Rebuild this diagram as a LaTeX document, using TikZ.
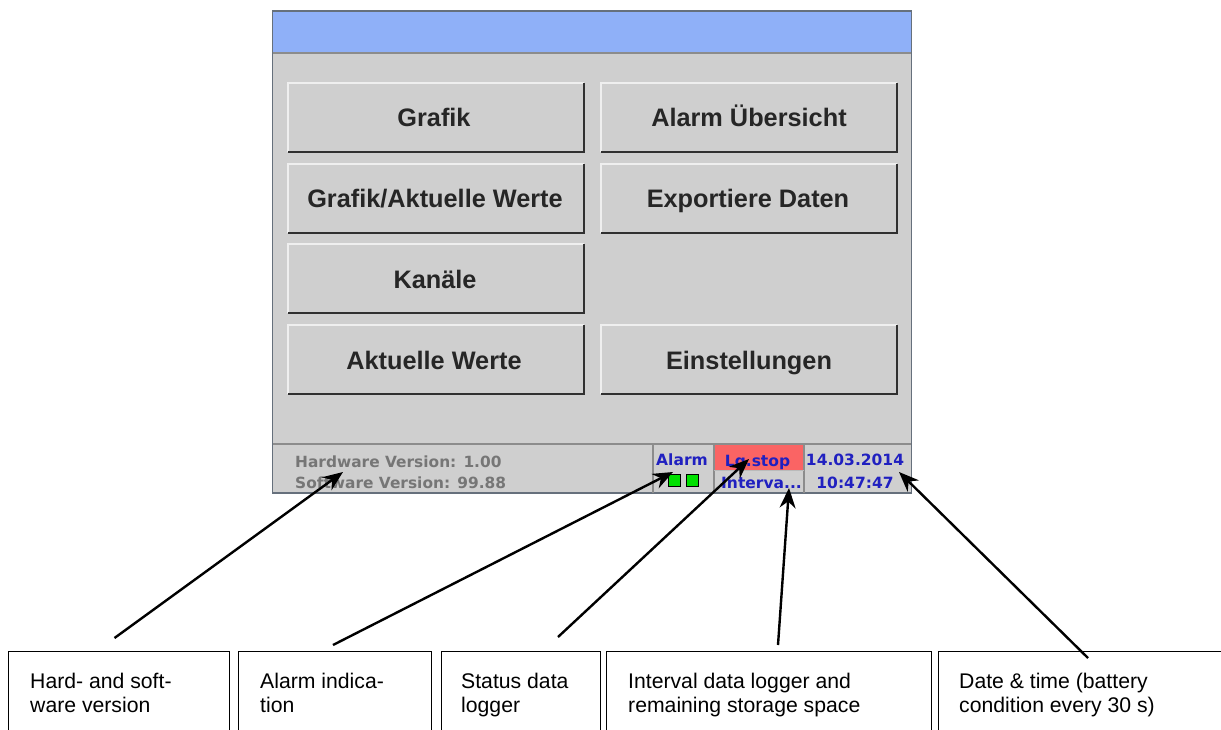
\documentclass[tikz,border=0pt]{standalone}
\usepackage{fontspec}
\setmainfont{Liberation Sans}
\newfontfamily\statusfont{DejaVu Sans}
\usetikzlibrary{arrows.meta}
\definecolor{panel}{HTML}{CFCFCF}
\definecolor{titleblue}{HTML}{8FB0F8}
\definecolor{frame}{HTML}{66707C}
\definecolor{sep}{HTML}{8C8C8C}
\definecolor{btndark}{HTML}{303030}
\definecolor{btnlight}{HTML}{EFEFEF}
\definecolor{statblue}{HTML}{2020C0}
\definecolor{statgrey}{HTML}{767676}
\definecolor{stopred}{HTML}{FA6464}
\definecolor{ledgreen}{HTML}{00E000}
\tikzset{
  x=1pt,y=-1pt,
  btnlabel/.style={font=\fontsize{25.3}{28}\selectfont\bfseries,text=black!85,inner sep=0pt,anchor=base},
  statlabel/.style={font=\statusfont\fontsize{15.5}{18}\selectfont\bfseries,text=statblue,inner sep=0pt,anchor=base},
  verlabel/.style={font=\statusfont\fontsize{15.4}{18}\selectfont\bfseries,text=statgrey,inner sep=0pt,anchor=base west},
  calloutbox/.style={draw=black,line width=1.4pt,anchor=north west,inner sep=0pt,minimum height=100pt},
  callouttext/.style={font=\fontsize{21.2}{24}\selectfont,inner sep=0pt,anchor=base west,text=black},
  pointer/.style={draw=black,line width=2.4pt,-{Stealth[length=20pt,width=16pt]}},
  led/.style={draw=black,line width=1.3pt,fill=ledgreen,minimum size=12pt,inner sep=0pt},
  sepline/.style={draw=sep,line width=1.3pt},
}
\begin{document}
\begin{tikzpicture}
\useasboundingbox (0,0) rectangle (1221,729);
\fill[white] (0,0) rectangle (1221,729);
% screen
\fill[panel] (272.5,11) rectangle (911.5,493);
\fill[titleblue] (272.5,11) rectangle (911.5,53);
\draw[sep,line width=1.5pt] (272.5,53) -- (911.5,53);
\draw[sepline] (272.5,444) -- (911.5,444);
\draw[frame,line width=1.5pt] (272.5,11) rectangle (911.5,493);
% status bar
\fill[stopred] (715,445) rectangle (803,469.5);
\draw[sepline] (653,444) -- (653,493);
\draw[sepline] (714,444) -- (714,493);
\draw[sepline] (804,444) -- (804,493);
\draw[sep!60,line width=1pt] (714,470) -- (804,470);
% buttons
\foreach \xa/\ya/\xb/\yb in {288/83/583.5/152,601/83/897/152,288/164/583.5/233,601/164/897/233,288/244/583.5/313,288/325/583.5/394,601/325/897/394}{
  \draw[btnlight,line width=1.5pt] (\xa,\yb) -- (\xa,\ya) -- (\xb,\ya);
  \draw[btndark,line width=2pt] (\xa,\yb) -- (\xb,\yb) -- (\xb,\ya);
}
\node[btnlabel] (bgrafik) at (434,126) {Grafik};
\node[btnlabel] (balarm) at (749,126) {Alarm Übersicht};
\node[btnlabel] (bgrafikwerte) at (435,207) {Grafik/Aktuelle Werte};
\node[btnlabel] (bexport) at (748,207) {Exportiere Daten};
\node[btnlabel] (bkanaele) at (435,288) {Kanäle};
\node[btnlabel] (bwerte) at (434,369) {Aktuelle Werte};
\node[btnlabel] (beinst) at (749,369) {Einstellungen};
% status text
\node[verlabel] (hw) at (295,467) {Hardware Version: 1.00};
\node[verlabel] (sw) at (295,488) {Software Version: 99.88};
\node[statlabel] (salarm) at (682,465) {Alarm};
\node[statlabel] (sstop) at (757.5,466) {Lg.stop};
\node[statlabel] (sint) at (761.5,488) {Interva...};
\node[statlabel] (sdate) at (855,465) {14.03.2014};
\node[statlabel] (stime) at (855,488) {10:47:47};
\node[led] (ledone) at (674.5,480.5) {};
\node[led] (ledtwo) at (692.5,480.5) {};
% callout boxes
\begin{scope}
\clip (0,0) rectangle (1221,729);
\node[calloutbox,minimum width=221pt] (boxhw) at (8,651) {};
\node[calloutbox,minimum width=193pt] (boxalarm) at (238,651) {};
\node[calloutbox,minimum width=159pt] (boxstatus) at (441,651) {};
\node[calloutbox,minimum width=325pt] (boxint) at (606,651) {};
\node[calloutbox,minimum width=300pt] (boxdate) at (938,651) {};
\end{scope}
\node[callouttext] (thwa) at (30,688) {Hard- and soft-};
\node[callouttext] (thwb) at (30,712) {ware version};
\node[callouttext] (tala) at (260,688) {Alarm indica-};
\node[callouttext] (talb) at (260,712) {tion};
\node[callouttext] (tsta) at (461,688) {Status data};
\node[callouttext] (tstb) at (461,712) {logger};
\node[callouttext] (tina) at (628,688) {Interval data logger and};
\node[callouttext] (tinb) at (628,712) {remaining storage space};
\node[callouttext] (tdaa) at (959,688) {Date \& time (battery};
\node[callouttext] (tdab) at (959,712) {condition every 30 s)};
% pointers
\coordinate (phw) at (114.5,638);
\coordinate (thwp) at (343,472);
\coordinate (palarm) at (333,645);
\coordinate (talp) at (673,472);
\coordinate (pstat) at (558,637);
\coordinate (tstp) at (749,459);
\coordinate (pint) at (778,645);
\coordinate (tinp) at (789,488);
\coordinate (pdate) at (1088,658);
\coordinate (tdap) at (899,472);
\draw[pointer] (phw) -- (thwp);
\draw[pointer] (palarm) -- (talp);
\draw[pointer] (pstat) -- (tstp);
\draw[pointer] (pint) -- (tinp);
\draw[pointer] (pdate) -- (tdap);
\end{tikzpicture}
\end{document}
